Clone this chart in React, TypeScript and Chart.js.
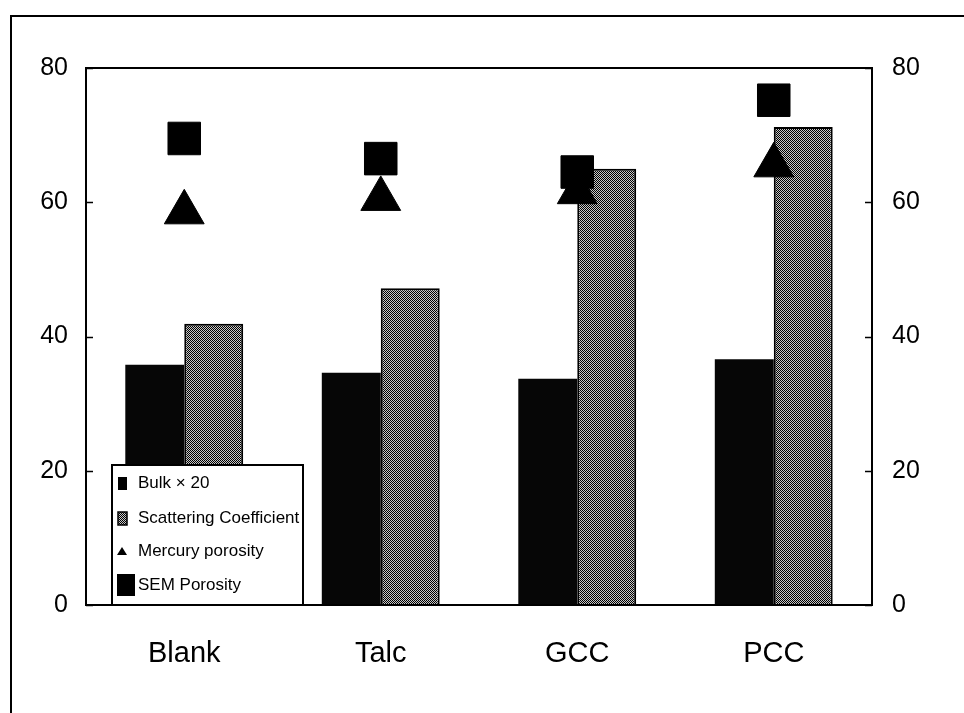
import React, { useEffect, useRef } from "react";
import { Chart, registerables } from "chart.js";

Chart.register(...registerables);

const categories = ["Blank", "Talc", "GCC", "PCC"];
const bulkX20 = [35.8, 34.6, 33.7, 36.6];
const scattering = [41.9, 47.2, 65.0, 71.2];
const mercuryPorosity = [58.5, 60.5, 61.5, 65.5];
const semPorosity = [69.5, 66.5, 64.5, 75.2];
const yTicks = [0, 20, 40, 60, 80];
const seriesLabels = ["Bulk \u00d7 20", "Scattering Coefficient", "Mercury porosity", "SEM Porosity"];

const FONT = "'Liberation Sans', Arial, sans-serif";

function makePattern(): CanvasPattern | string {
  const c = document.createElement("canvas");
  c.width = 4;
  c.height = 4;
  const g = c.getContext("2d");
  if (!g) return "#888";
  g.fillStyle = "#c8c8c8";
  g.fillRect(0, 0, 4, 4);
  g.fillStyle = "#000000";
  for (let y = 0; y < 4; y++) {
    for (let x = 0; x < 4; x++) {
      if ((x + y) % 2 === 0) g.fillRect(x, y, 1, 1);
    }
  }
  const p = g.createPattern(c, "repeat");
  return p || "#888";
}

export default function App() {
  const ref = useRef<HTMLCanvasElement | null>(null);

  useEffect(() => {
    const canvas = ref.current;
    if (!canvas) return;
    const pattern = makePattern();

    const framePlugin = {
      id: "frame",
      beforeDraw(chart: any) {
        const ctx = chart.ctx;
        ctx.save();
        ctx.fillStyle = "#fff";
        ctx.fillRect(0, 0, chart.width, chart.height);
        ctx.strokeStyle = "#000";
        ctx.lineWidth = 2;
        ctx.beginPath();
        ctx.moveTo(11, chart.height);
        ctx.lineTo(11, 16);
        ctx.lineTo(chart.width, 16);
        ctx.stroke();
        ctx.restore();
      },
      afterDraw(chart: any) {
        const ctx = chart.ctx;
        const a = chart.chartArea;
        ctx.save();
        ctx.strokeStyle = "#000";
        ctx.lineWidth = 2;
        ctx.strokeRect(a.left, a.top, a.right - a.left, a.bottom - a.top);
        const y = chart.scales.y;
        ctx.beginPath();
        for (const v of yTicks) {
          const py = Math.round(y.getPixelForValue(v)) + 0.5;
          ctx.moveTo(a.left, py);
          ctx.lineTo(a.left + 7, py);
          ctx.moveTo(a.right, py);
          ctx.lineTo(a.right - 7, py);
        }
        ctx.lineWidth = 1.5;
        ctx.stroke();

        // legend box
        const lx = 112;
        const ly = 465;
        const lw = 191;
        const lh = a.bottom - ly;
        ctx.fillStyle = "#fff";
        ctx.fillRect(lx, ly, lw, lh);
        ctx.lineWidth = 2;
        ctx.strokeStyle = "#000";
        ctx.strokeRect(lx, ly, lw, lh);
        ctx.font = "17px " + FONT;
        ctx.textBaseline = "middle";
        ctx.textAlign = "left";
        const rowY = [483, 518, 551, 585];
        seriesLabels.forEach((label, i) => {
          const cy = rowY[i];
          if (i === 0) {
            ctx.fillStyle = "#000";
            ctx.fillRect(118, cy - 6, 9, 13);
          } else if (i === 1) {
            ctx.fillStyle = pattern;
            ctx.fillRect(118, cy - 6, 9, 13);
            ctx.lineWidth = 1.5;
            ctx.strokeRect(118, cy - 6, 9, 13);
          } else if (i === 2) {
            ctx.fillStyle = "#000";
            ctx.beginPath();
            ctx.moveTo(122, cy - 4);
            ctx.lineTo(127, cy + 4);
            ctx.lineTo(117, cy + 4);
            ctx.closePath();
            ctx.fill();
          } else {
            ctx.fillStyle = "#000";
            ctx.fillRect(117, cy - 11, 18, 22);
          }
          ctx.fillStyle = "#000";
          ctx.fillText(label, 138, cy);
        });
        ctx.restore();
      },
    };

    const chart = new Chart(canvas, {
      type: "bar",
      data: {
        labels: categories,
        datasets: [
          {
            type: "bar",
            label: seriesLabels[0],
            data: bulkX20,
            backgroundColor: "#060606",
            borderColor: "#000",
            borderWidth: 0,
            yAxisID: "y",
            order: 2,
            categoryPercentage: 0.6,
            barPercentage: 1.0,
          },
          {
            type: "bar",
            label: seriesLabels[1],
            data: scattering,
            backgroundColor: pattern as any,
            borderColor: "#000",
            borderWidth: 2,
            yAxisID: "y",
            order: 2,
            categoryPercentage: 0.6,
            barPercentage: 1.0,
          },
          {
            type: "line",
            label: seriesLabels[2],
            data: mercuryPorosity,
            showLine: false,
            pointStyle: "triangle",
            pointRadius: 23,
            pointBackgroundColor: "#000",
            pointBorderColor: "#000",
            pointBorderWidth: 1,
            yAxisID: "y",
            order: 1,
          } as any,
          {
            type: "line",
            label: seriesLabels[3],
            data: semPorosity,
            showLine: false,
            pointStyle: "rect",
            pointRadius: 23,
            pointBackgroundColor: "#000",
            pointBorderColor: "#000",
            pointBorderWidth: 1,
            yAxisID: "y",
            order: 0,
          } as any,
        ],
      },
      options: {
        responsive: false,
        animation: false,
        devicePixelRatio: 1,
        layout: { padding: { left: 0, right: 0, top: 68, bottom: 0 } },
        plugins: {
          legend: { display: false },
          tooltip: { enabled: false },
          title: { display: false },
        },
        scales: {
          x: {
            type: "category",
            offset: true,
            grid: { display: false, drawTicks: false },
            border: { display: false },
            ticks: {
              color: "#000",
              font: { family: FONT, size: 29 },
              padding: 32,
            },
            afterFit: (s: any) => {
              s.height = 108;
            },
          },
          y: {
            position: "left",
            min: 0,
            max: 80,
            grid: { display: false, drawTicks: false },
            border: { display: false },
            ticks: {
              stepSize: 20,
              color: "#000",
              font: { family: FONT, size: 25 },
              padding: 18,
            },
            afterFit: (s: any) => {
              s.width = 86;
            },
          },
          y2: {
            position: "right",
            min: 0,
            max: 80,
            grid: { display: false, drawTicks: false },
            border: { display: false },
            ticks: {
              stepSize: 20,
              color: "#000",
              font: { family: FONT, size: 25 },
              padding: 20,
            },
            afterFit: (s: any) => {
              s.width = 92;
            },
          },
        },
      },
      plugins: [framePlugin],
    } as any);

    return () => chart.destroy();
  }, []);

  return (
    <div style={{ position: "fixed", left: 0, top: 0, width: 964, height: 713, background: "#fff" }}>
      <canvas ref={ref} width={964} height={713} style={{ display: "block", width: 964, height: 713 }} />
    </div>
  );
}
